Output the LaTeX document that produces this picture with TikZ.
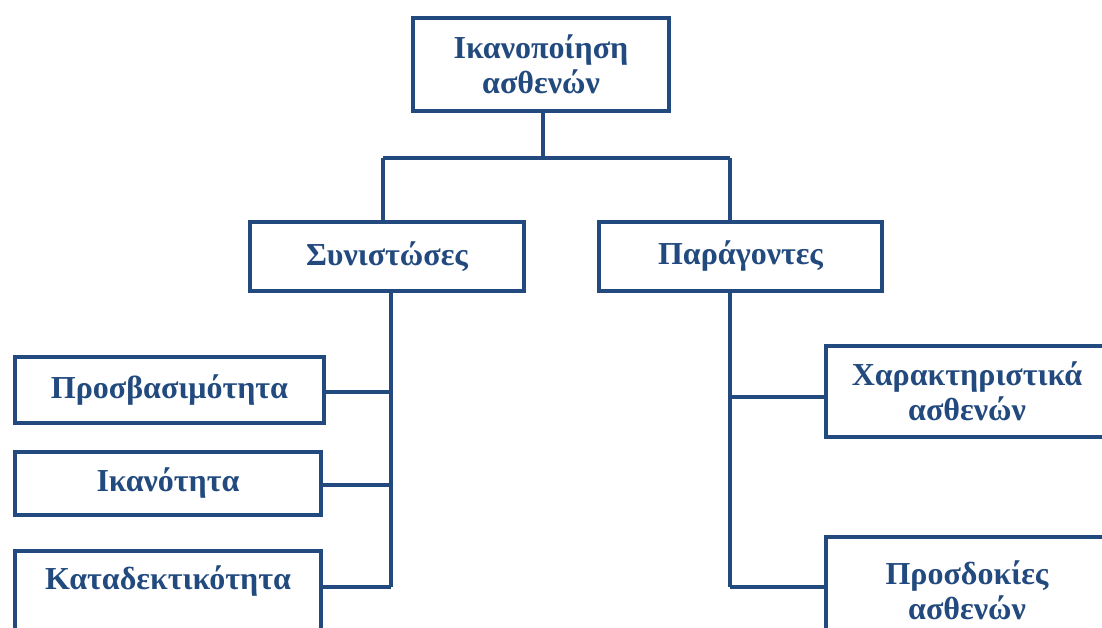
\documentclass[tikz,border=0pt]{standalone}
\usepackage{fontspec}
\setmainfont{Liberation Serif}
\definecolor{navy}{RGB}{34,74,126}
\tikzset{
  box/.style={draw=navy, line width=4pt, fill=white, inner sep=0pt, align=center,
              font=\fontsize{32}{35}\selectfont\bfseries, text=navy},
  txt/.style={inner sep=0pt, align=center, font=\fontsize{32}{35}\selectfont\bfseries, text=navy},
  link/.style={draw=navy, line width=3.5pt}
}
\begin{document}
\begin{tikzpicture}[x=1pt, y=-1pt]
\useasboundingbox (0,0) rectangle (1102,628);
\clip (0,0) rectangle (1102,628);

% root
\node[box, minimum width=256pt, minimum height=93pt] (root) at (541,64.5) {Ικανοποίηση\\ασθενών};

% second level
\node[box, minimum width=274pt, minimum height=69pt] (syn) at (387,256.5) {Συνιστώσες};
\node[box, minimum width=283pt, minimum height=69pt] (par) at (740.5,256.5) {Παράγοντες};

% components (left column)
\node[box, minimum width=309pt, minimum height=66pt] (pro) at (169.5,390) {Προσβασιμότητα};
\node[box, minimum width=306pt, minimum height=63pt] (ika) at (168,483.5) {Ικανότητα};
\node[box, minimum width=306pt, minimum height=100pt, anchor=north] (kat) at (168,549) {};
\node[txt] (katt) at (168,581) {Καταδεκτικότητα};

% factors (right column)
\node[box, minimum width=282pt, minimum height=91pt] (cha) at (967,391.5) {Χαρακτηριστικά\\ασθενών};
\node[box, minimum width=282pt, minimum height=106pt] (pros) at (967,590) {Προσδοκίες\\ασθενών};

% branching coordinates
\coordinate (bar) at (543,158);
\coordinate (barL) at (383,158);
\coordinate (barR) at (730,158);
\coordinate (spL) at (391,587);
\coordinate (spR) at (730,587);

% root to second level
\draw[link] (root.south -| bar) -- (bar);
\draw[link] (barL) -- (barR);
\draw[link] (barL) -- (barL |- syn.north);
\draw[link] (barR) -- (barR |- par.north);

% left spine
\draw[link] (syn.south -| spL) -- (spL);
\draw[link] (pro.east |- 0,392) -- (spL |- 0,392);
\draw[link] (ika.east |- 0,485) -- (spL |- 0,485);
\draw[link] (kat.east |- spL) -- (spL);

% right spine
\draw[link] (par.south -| spR) -- (spR);
\draw[link] (spR |- 0,397) -- (cha.west |- 0,397);
\draw[link] (spR) -- (pros.west |- spR);
\end{tikzpicture}
\end{document}
